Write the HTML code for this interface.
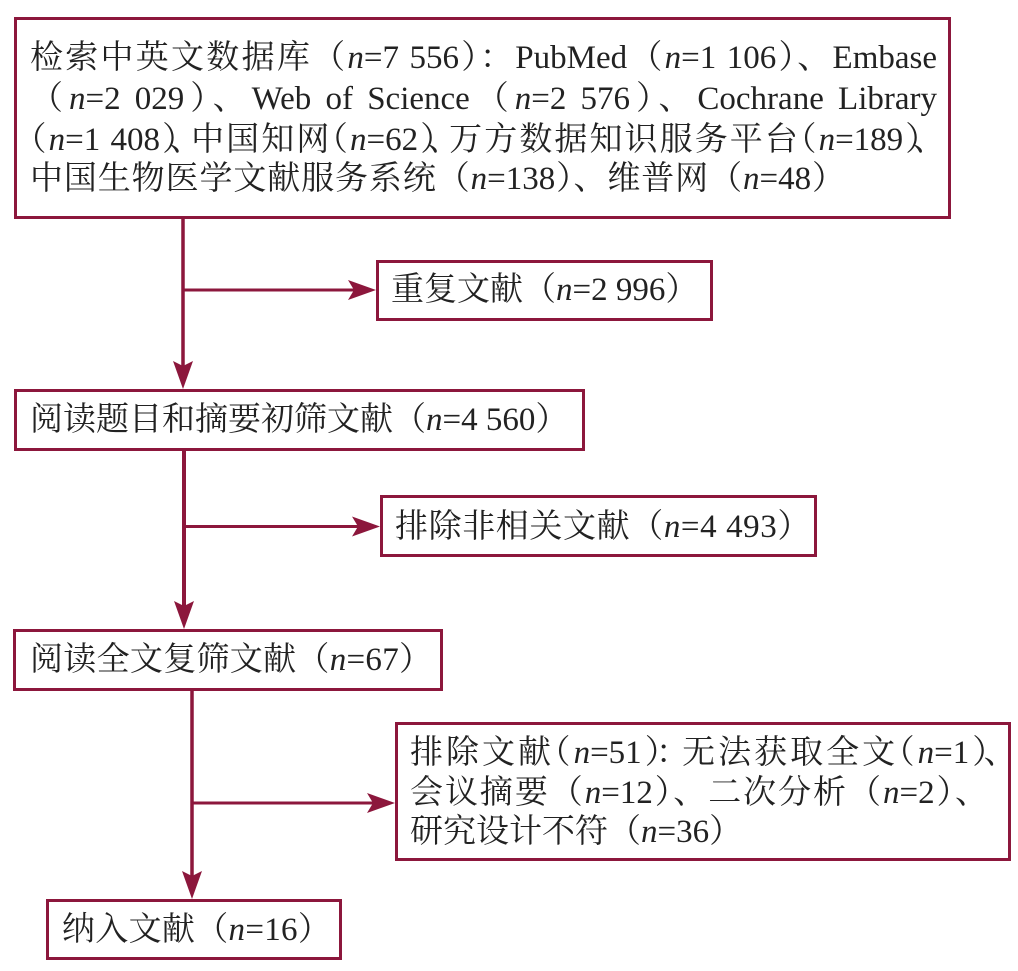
<!DOCTYPE html>
<html>
<head>
<meta charset="utf-8">
<style>
  html,body{margin:0;padding:0;background:#fff;}
  #wrap{position:relative;width:1018px;height:971px;overflow:hidden;background:#fff;}
  svg{position:absolute;left:0;top:0;}
  .t{position:absolute;font-family:"Liberation Serif","Noto Serif CJK SC",serif;font-size:33px;line-height:40px;color:#222;white-space:nowrap;}
  .j{text-align:justify;text-align-last:justify;white-space:nowrap;}
  i{font-style:italic;}
  .ho{margin-left:-0.5em;}
  .hc{margin-right:-0.35em;}
  .hd{margin-right:-0.4em;}
  .hc2{margin-right:-0.25em;}
  .hd2{margin-right:-0.3em;}
</style>
</head>
<body>
<div id="wrap">
<svg width="1018" height="971" viewBox="0 0 1018 971">
  <g fill="none" stroke="#8c173c" stroke-width="3">
    <rect x="15.5" y="18.5" width="934" height="199"/>
    <rect x="377.5" y="261.5" width="334" height="58"/>
    <rect x="15.5" y="390.5" width="568" height="59"/>
    <rect x="381.5" y="496.5" width="434" height="59"/>
    <rect x="14.5" y="630.5" width="427" height="59"/>
    <rect x="396.5" y="723.5" width="613" height="136"/>
    <rect x="47.5" y="900.5" width="293" height="58"/>
  </g>
  <g stroke="#8c173c" fill="none">
    <line x1="183" y1="219" x2="183" y2="368" stroke-width="3.5"/>
    <line x1="183" y1="290" x2="356" y2="290" stroke-width="3"/>
    <line x1="184" y1="451" x2="184" y2="610" stroke-width="4"/>
    <line x1="184" y1="526.5" x2="360" y2="526.5" stroke-width="3"/>
    <line x1="192" y1="691" x2="192" y2="880" stroke-width="3.5"/>
    <line x1="192" y1="803" x2="375" y2="803" stroke-width="3"/>
  </g>
  <g fill="#8c173c">
    <polygon points="183,389 173,361 183,366 193,361"/>
    <polygon points="376,290 348,280 354,290 348,300"/>
    <polygon points="184,629 174,601 184,606 194,601"/>
    <polygon points="380,526.5 352,516.5 358,526.5 352,536.5"/>
    <polygon points="192,899 182,871 192,876 202,871"/>
    <polygon points="395,803 367,793 373,803 367,813"/>
  </g>
</svg>

<!-- Box 1 -->
<div class="t j" style="left:30px;top:38px;width:907px;">检索中英文数据库（<i>n</i>=7 556）：PubMed（<i>n</i>=1 106）、Embase</div>
<div class="t j" style="left:30px;top:79px;width:907px;">（<i>n</i>=2 029）、Web of Science（<i>n</i>=2 576）、Cochrane Library</div>
<div class="t j" style="left:30px;top:120px;width:902px;"><span class="ho">（</span><i>n</i>=1 408<span class="hc">）</span><span class="hd">、</span>中国知网<span class="ho">（</span><i>n</i>=62<span class="hc">）</span><span class="hd">、</span>万方数据知识服务平台<span class="ho">（</span><i>n</i>=189<span class="hc">）</span><span class="hd">、</span></div>
<div class="t j" style="left:30px;top:159px;width:815px;">中国生物医学文献服务系统（<i>n</i>=138）、维普网（<i>n</i>=48）</div>

<!-- Box 2 -->
<div class="t" style="left:391px;top:270px;">重复文献（<i>n</i>=2 996）</div>

<!-- Box 3 -->
<div class="t" style="left:30px;top:400px;">阅读题目和摘要初筛文献（<i>n</i>=4 560）</div>

<!-- Box 4 -->
<div class="t" style="left:395px;top:507px;letter-spacing:0.6px;">排除非相关文献（<i>n</i>=4 493）</div>

<!-- Box 5 -->
<div class="t" style="left:30px;top:640px;letter-spacing:0.3px;">阅读全文复筛文献（<i>n</i>=67）</div>

<!-- Box 6 -->
<div class="t j" style="left:410px;top:733px;width:590px;">排除文献<span class="ho">（</span><i>n</i>=51<span class="hc2">）</span><span class="hd2">：</span>无法获取全文<span class="ho">（</span><i>n</i>=1<span class="hc2">）</span><span class="ho" style="margin-left:0;margin-right:-0.5em;">、</span></div>
<div class="t j" style="left:410px;top:773px;width:578px;">会议摘要（<i>n</i>=12）、二次分析（<i>n</i>=2）、</div>
<div class="t" style="left:410px;top:812px;">研究设计不符（<i>n</i>=36）</div>

<!-- Box 7 -->
<div class="t" style="left:62px;top:910px;letter-spacing:0.3px;">纳入文献（<i>n</i>=16）</div>
</div>
</body>
</html>
